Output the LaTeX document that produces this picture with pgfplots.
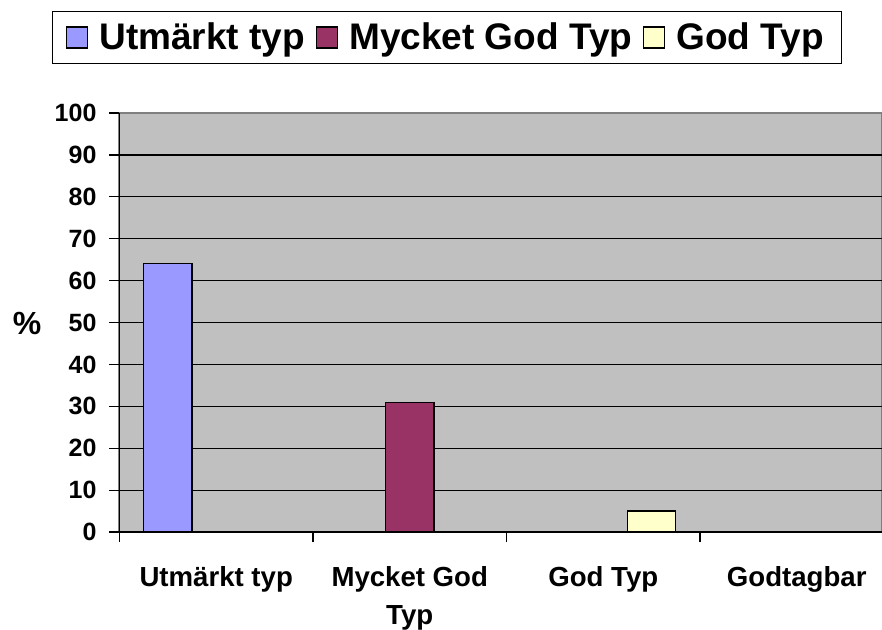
\documentclass[border=0pt]{standalone}
\usepackage{fontspec}
\setmainfont{Liberation Sans}
\usepackage{pgfplots}
\pgfplotsset{compat=1.18}
\definecolor{serA}{RGB}{153,153,255}
\definecolor{serB}{RGB}{153,51,102}
\definecolor{serC}{RGB}{255,255,204}
\definecolor{plotbg}{RGB}{192,192,192}
\definecolor{edgegray}{RGB}{128,128,128}
\pgfplotsset{sq/.style={legend image code/.code={\draw[##1,draw=black,line width=0.6pt] (0pt,-5.25pt) rectangle (10.5pt,5.25pt);}}}

\begin{document}
\begin{tikzpicture}
\begin{axis}[
  at={(59.75pt,-266pt)}, anchor=south west,
  scale only axis, width=381.25pt, height=209.5pt,
  xmin=-0.5, xmax=3.4406, ymin=0, ymax=100,
  ybar, bar width=0.25,
  axis background/.style={fill=plotbg, draw=edgegray, line width=1pt},
  axis lines*=left, axis line style={black, line width=0.7pt},
  tick align=outside, tick style={black, line width=0.6pt},
  major tick length=5pt, minor tick length=5pt,
  xtick={0,1,2,3},
  xticklabels={Utmärkt typ,{Mycket God\\Typ},God Typ,Godtagbar},
  major x tick style={draw=none},
  minor xtick={-0.5,0.5,1.5,2.5},
  ytick={0,10,...,100},
  extra y ticks={10,20,...,90}, extra y tick labels={},
  extra y tick style={ymajorgrids=true, major tick length=0pt},
  major grid style={black, line width=0.6pt},
  /pgf/number format/assume math mode=true,
  yticklabel style={font=\bfseries\fontsize{12.5}{14}\selectfont, xshift=-3pt},
  xticklabel style={font=\bfseries\fontsize{13.8}{19}\selectfont, align=center, yshift=-8.5pt},
  ylabel={\%},
  ylabel style={rotate=-90, at={(axis description cs:-0.1213,0.4988)}, anchor=center, font=\bfseries\fontsize{16}{18}\selectfont},
  legend columns=3,
  legend style={at={(axis description cs:0.4295,1.2434)}, anchor=north, draw=black, line width=0.6pt,
    font=\bfseries\fontsize{18.5}{21}\selectfont, inner xsep=7pt, inner ysep=3.5pt,
    /tikz/every even column/.append style={column sep=3.5pt},
    /tikz/every odd column/.append style={column sep=3.5pt}},
]
\addplot[sq, fill=serA, draw=black, line width=0.6pt, bar shift=0pt] coordinates {(-0.25,64)};
\addplot[sq, fill=serB, draw=black, line width=0.6pt, bar shift=0pt] coordinates {(1,31)};
\addplot[sq, fill=serC, draw=black, line width=0.6pt, bar shift=0pt] coordinates {(2.25,5)};
\legend{Utmärkt typ,Mycket God Typ,God Typ}
\end{axis}
\pgfresetboundingbox
\useasboundingbox (0pt,0pt) rectangle (441pt,-315pt);
\end{tikzpicture}
\end{document}
